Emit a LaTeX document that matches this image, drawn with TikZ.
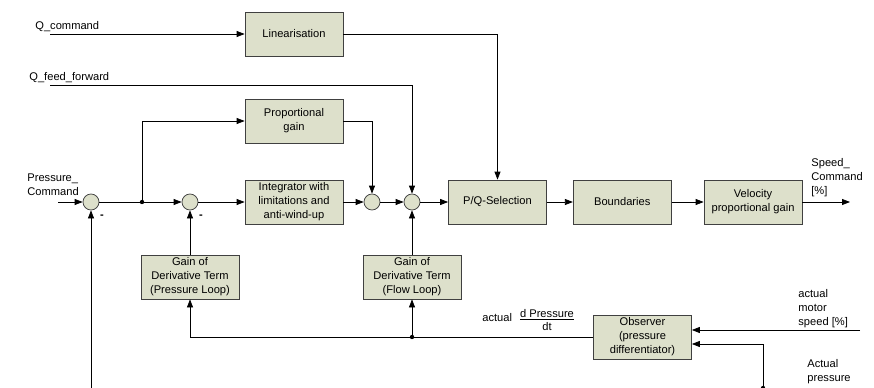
\documentclass[tikz,border=0pt]{standalone}
\usepackage{fontspec}
\setsansfont{Liberation Sans}
\usetikzlibrary{
  arrows.meta,
  positioning
}
\tikzset{
  blk/.style={draw=black!75, fill=boxfill, minimum width=29.4mm, minimum height=13.2mm, align=center, inner sep=1pt},
  sumnode/.style={draw=black!75, fill=boxfill, circle, minimum size=4.8mm, inner sep=0pt},
  lbl/.style={align=left, inner sep=0pt, anchor=west},
  dot/.style={fill, circle, inner sep=0pt, minimum size=1.3mm},
  sig/.style={-{Triangle[length=2.4mm,width=1.8mm]}},
}
\definecolor{boxfill}{HTML}{DDE0CB}

\begin{document}
\begin{tikzpicture}[x=0.3mm, y=-0.3mm, line width=0.65pt]
      \fontsize{9.5}{11.9}\selectfont \sffamily
      \useasboundingbox (0,0) rectangle (874,388);

      % main row
      \node[sumnode] (s1) at (91,202) {};
      \node[dot] (split) at (142,202) {};
      \node[sumnode] (s2) at (190,202) {};
      \node[blk] (integ) at (294,202) {Integrator with\\limitations and\\anti-wind-up};
      \node[sumnode] (s3) at (372,202) {};
      \node[sumnode] (s4) at (412,202) {};
      \node[blk] (pq) at (497.5,202) {P/Q-Selection};
      \node[blk] (bound) [right = 7.8mm of pq] {Boundaries};
      \node[blk] (vel) [right = 9.6mm of bound] {Velocity\\proportional gain};

      % upper paths
      \node[blk] (lin) at (294,34) {Linearisation};
      \node[blk] (prop) at (294,121) {Proportional\\gain};

      % feedback part
      \node[blk] (gainp) at (190,277) {Gain of\\Derivative Term\\(Pressure Loop)};
      \node[blk] (gainf) at (412,277) {Gain of\\Derivative Term\\(Flow Loop)};
      \node[blk] (obs) at (642.5,337) {Observer\\(pressure\\differentiator)};
      \node[dot] (fb) at (412,337) {};
      \node[dot] (apr) at (763,388) {};

      % free ends
      \coordinate (qc) at (50,34);
      \coordinate (qff) at (50,85);
      \coordinate (pin) at (58,202);
      \coordinate (pfb) at (91,388);
      \coordinate (sout) at (850,202);
      \coordinate (ams) at (860,330);

      % labels
      \node[lbl] (qclbl) at (35,27) {Q\_command};
      \node[lbl] (qfflbl) at (29,78) {Q\_feed\_forward};
      \node[lbl] (pinlbl) at (27,185) {Pressure\_\\Command};
      \node[lbl] (soutlbl) at (811,178) {Speed\_\\Command\\{[\%]}};
      \node[lbl] (amslbl) at (798,309) {actual\\motor\\speed [\%]};
      \node[lbl] (aprlbl) at (807,372) {Actual\\pressure};
      \node[lbl] (actlbl) at (482,318) {actual};
      \node[align=center, inner sep=0pt] (dplbl) at (547,320) {\underline{d Pressure}\\dt};
      \node[inner sep=0pt] (m1) at (102,217) {\textbf{-}};
      \node[inner sep=0pt] (m2) at (201,217) {\textbf{-}};

      \draw[sig] (qc) -- (lin);
      \draw[sig] (lin) -| (pq);
      \draw[sig] (qff) -| (s4);
      \draw[sig] (split.center) |- (prop);
      \draw[sig] (prop) -| (s3);

      \draw[sig] (pin) -- (s1);
      \draw[sig] (s1) -- (s2);
      \draw[sig] (s2) -- (integ);
      \draw[sig] (integ) -- (s3);
      \draw[sig] (s3) -- (s4);
      \draw[sig] (s4) -- (pq);
      \draw[sig] (pq) -- (bound);
      \draw[sig] (bound) -- (vel);
      \draw[sig] (vel) -- (sout);

      \draw[sig] (gainp) -- (s2);
      \draw[sig] (gainf) -- (s4);
      \draw[sig] (pfb) -- (s1);
      \draw (obs) -- (fb.center);
      \draw[sig] (fb.center) -- (gainf);
      \draw[sig] (fb.center) -| (gainp);
      \draw[sig] (ams) -- (ams -| obs.east);
      \draw[sig] (apr.center) |- ([yshift=-2.1mm]obs.east);
    \end{tikzpicture}
\end{document}
